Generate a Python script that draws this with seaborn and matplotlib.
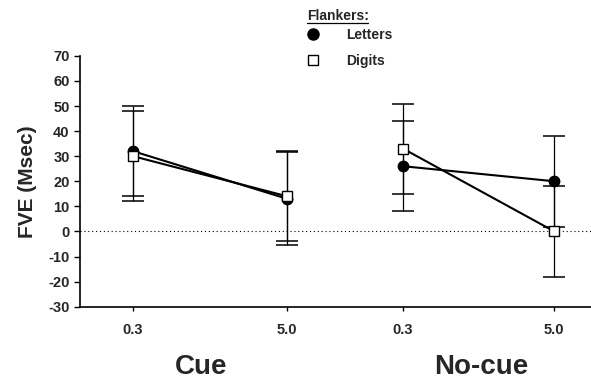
import numpy as np
import pandas as pd
import matplotlib
matplotlib.use("Agg")
import matplotlib.pyplot as plt
from matplotlib.lines import Line2D
import seaborn as sns

# ---- data ----
conditions = ["Cue", "Cue", "No-cue", "No-cue"]
soa_labels = ["0.3", "5.0", "0.3", "5.0"]
letters_fve = [32, 13, 26, 20]
letters_err = [18, 18.5, 18, 18.2]
digits_fve = [30, 14, 33, 0]
digits_err = [18, 18, 18, 18.2]

# horizontal placement of the four SOA columns (spacing is uneven in the original)
x_pos = [0.0, 1.0, 1.753, 2.734]

df = pd.concat([
    pd.DataFrame({"cond": conditions, "soa": soa_labels, "x": x_pos,
                  "fve": letters_fve, "err": letters_err, "flanker": "Letters"}),
    pd.DataFrame({"cond": conditions, "soa": soa_labels, "x": x_pos,
                  "fve": digits_fve, "err": digits_err, "flanker": "Digits"}),
], ignore_index=True)

sns.set_style("ticks")
plt.rcParams["font.family"] = ["Liberation Sans", "DejaVu Sans"]
plt.rcParams["font.weight"] = "bold"
plt.rcParams["axes.unicode_minus"] = False

fig = plt.figure(figsize=(5.91, 3.80), dpi=100)
ax = fig.add_axes([0.1354, 0.193, 0.865, 0.66])

estilos = {
    "Letters": dict(marker="o", markersize=7.5, markerfacecolor="black", zorder=4),
    "Digits": dict(marker="s", markersize=6.5, markerfacecolor="white", zorder=5),
}

for flanker, sub in df.groupby("flanker"):
    # error bars first so the markers sit on top
    ax.errorbar(sub["x"], sub["fve"], yerr=sub["err"], fmt="none", ecolor="black",
                elinewidth=0.9, capsize=8, capthick=1.1, zorder=2)
    for cond, grp in sub.groupby("cond"):
        sns.lineplot(data=grp, x="x", y="fve", ax=ax, color="black", linewidth=1.5,
                     markeredgecolor="black", markeredgewidth=1.0,
                     estimator=None, sort=False, **estilos[flanker])

ax.axhline(0, color="black", linestyle=(0, (1, 2.5)), linewidth=0.8, zorder=1)

ax.set_xlim(-0.344, 2.974)
ax.set_ylim(-30, 70)
ax.set_yticks(np.arange(-30, 71, 10))
ax.set_xticks(x_pos, soa_labels)
ax.tick_params(axis="both", labelsize=10.5, length=4, width=1.0, direction="out", color="black")
ax.tick_params(axis="x", length=3, pad=9)
for lab in ax.get_xticklabels() + ax.get_yticklabels():
    lab.set_fontweight("bold")

ax.set_xlabel("")
ax.set_ylabel("FVE (Msec)", fontsize=15, fontweight="bold", labelpad=8)
sns.despine(ax=ax)
for s in ["left", "bottom"]:
    ax.spines[s].set_linewidth(1.2)
    ax.spines[s].set_color("black")

# group labels under the axis
fig.text(201 / 591, 1 - 367 / 380, "Cue", ha="center", va="center", fontsize=20, fontweight="bold")
fig.text(481 / 591, 1 - 367 / 380, "No-cue", ha="center", va="center", fontsize=20, fontweight="bold")

# legend
fig.text(307 / 591, 1 - 16 / 380, "Flankers:", ha="left", va="center", fontsize=10, fontweight="bold")
fig.add_artist(Line2D([307 / 591, 368 / 591], [1 - 23 / 380, 1 - 23 / 380],
                      color="black", linewidth=0.9, transform=fig.transFigure))
handles = [
    Line2D([], [], linestyle="none", marker="o", markersize=8, color="black"),
    Line2D([], [], linestyle="none", marker="s", markersize=6.5, markerfacecolor="white",
           markeredgecolor="black", markeredgewidth=1.0),
]
leg = ax.legend(handles, ["Letters", "Digits"], loc="upper left",
                bbox_to_anchor=(307 / 591, 1 - 28 / 380), bbox_transform=fig.transFigure,
                frameon=False, borderpad=0, borderaxespad=0, handlelength=0.9,
                handletextpad=1.9, labelspacing=0.85, prop={"size": 10, "weight": "bold"})

fig.savefig("out.png", dpi=100)
